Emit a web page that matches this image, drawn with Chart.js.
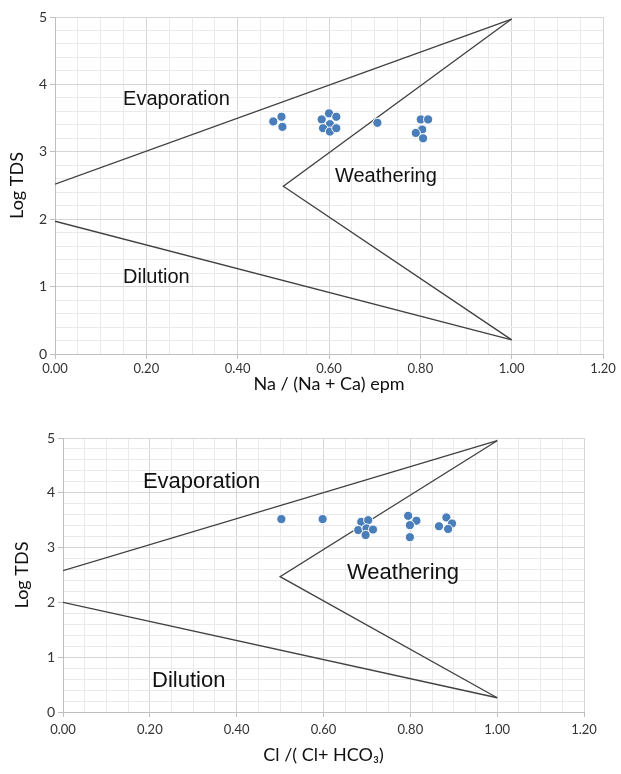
<!DOCTYPE html>
<html>
<head>
<meta charset="utf-8">
<script src="https://cdn.jsdelivr.net/npm/chart.js@4.4.1/dist/chart.umd.min.js"></script>
<style>
  html, body { margin: 0; padding: 0; background: #fff; }
  #wrap { position: relative; width: 621px; height: 774px; }
  #wrap canvas { position: absolute; left: 0; }
</style>
</head>
<body>
<div id="wrap">
  <canvas id="chartNa" width="621" height="400" style="top:0"></canvas>
  <canvas id="chartCl" width="621" height="374" style="top:400px"></canvas>
</div>
<script>
// Gibbs diagram, Na/(Na+Ca) ratio
const naX = [0.478, 0.496, 0.498, 0.584, 0.600, 0.616, 0.602, 0.587, 0.602, 0.616, 0.706, 0.801, 0.817, 0.804, 0.790, 0.806];
const naY = [3.45, 3.52, 3.37, 3.48, 3.57, 3.52, 3.41, 3.35, 3.30, 3.35, 3.43, 3.48, 3.48, 3.33, 3.28, 3.20];

// Gibbs diagram, Cl/(Cl+HCO3) ratio
const clX = [0.503, 0.598, 0.687, 0.703, 0.680, 0.699, 0.714, 0.697, 0.795, 0.814, 0.799, 0.799, 0.883, 0.896, 0.866, 0.887];
const clY = [3.52, 3.52, 3.47, 3.50, 3.32, 3.35, 3.33, 3.23, 3.58, 3.49, 3.41, 3.19, 3.55, 3.44, 3.39, 3.34];

// boundary lines [x, y]
const naUpper = [[0, 2.52], [1, 4.97]];
const naWedge = [[1, 4.97], [0.5, 2.49], [1, 0.21]];
const naLower = [[0, 1.97], [1, 0.21]];

const clUpper = [[0, 2.58], [1, 4.95]];
const clWedge = [[1, 4.95], [0.5, 2.47], [1, 0.26]];
const clLower = [[0, 2.0], [1, 0.26]];

// field names and where they sit (data coords, left/middle)
const zoneNames = ['Evaporation', 'Weathering', 'Dilution'];
const naZonePos = [[0.149, 3.77], [0.613, 2.64], [0.149, 1.14]];
const clZonePos = [[0.184, 4.20], [0.654, 2.54], [0.205, 0.57]];

const xTicks = [0, 0.2, 0.4, 0.6, 0.8, 1.0, 1.2];
const yTicks = [0, 1, 2, 3, 4, 5];

const isMajor = (v, step) => Math.abs(v / step - Math.round(v / step)) < 1e-6;

const toPts = (xs, ys) => xs.map((x, i) => ({ x: x, y: ys[i] }));
const toLine = arr => arr.map(p => ({ x: p[0], y: p[1] }));

const zoneText = {
  id: 'zoneText',
  afterDatasetsDraw(chart, args, opts) {
    const { ctx, scales: { x, y } } = chart;
    ctx.save();
    ctx.font = opts.size + 'px "Liberation Sans", Arial, sans-serif';
    ctx.fillStyle = '#111';
    ctx.textAlign = 'left';
    ctx.textBaseline = 'middle';
    zoneNames.forEach((name, i) => {
      const p = opts.pos[i];
      ctx.fillText(name, x.getPixelForValue(p[0]), y.getPixelForValue(p[1]));
    });
    ctx.restore();
  }
};

function lineSet(data) {
  return {
    type: 'line', data: data, borderColor: '#404040', borderWidth: 1.3,
    pointRadius: 0, fill: false, tension: 0, order: 2
  };
}

function makeChart(id, pts, upper, wedge, lower, cfg) {
  new Chart(document.getElementById(id), {
    type: 'scatter',
    data: {
      datasets: [
        {
          data: pts, backgroundColor: '#4a7ebb', borderColor: '#ffffff', borderWidth: 1,
          pointRadius: 4.6, order: 0
        },
        lineSet(toLine(upper)),
        lineSet(toLine(wedge)),
        lineSet(toLine(lower))
      ]
    },
    options: {
      responsive: false,
      animation: false,
      layout: { padding: cfg.padding },
      plugins: {
        legend: { display: false },
        tooltip: { enabled: false },
        zoneText: { size: cfg.textSize, pos: cfg.zonePos }
      },
      scales: {
        x: {
          type: 'linear', min: 0, max: 1.2,
          afterFit: s => { s.height = cfg.xHeight; },
          border: { color: '#bfbfbf' },
          grid: {
            color: c => isMajor(c.tick.value, 0.2) ? '#d6d6d6' : '#eaeaea',
            tickColor: c => isMajor(c.tick.value, 0.2) ? '#bfbfbf' : 'rgba(0,0,0,0)',
            tickLength: 5
          },
          afterBuildTicks: s => {
            const t = [];
            for (let i = 0; i <= 24; i++) t.push({ value: +(i * 0.05).toFixed(2) });
            s.ticks = t;
          },
          ticks: {
            autoSkip: false, maxRotation: 0, padding: cfg.xTickPad,
            color: '#333', font: { family: 'Lato, "Open Sans", sans-serif', size: 13 },
            callback: v => xTicks.some(t => Math.abs(t - v) < 1e-6) ? v.toFixed(2) : ''
          },
          title: {
            display: true, text: cfg.xTitle, color: '#111',
            font: { family: 'Lato, "Open Sans", sans-serif', size: 18 },
            padding: { top: 4, bottom: cfg.xTitlePad }
          }
        },
        y: {
          type: 'linear', min: 0, max: 5,
          afterFit: s => { s.width = cfg.yWidth; },
          border: { color: '#bfbfbf' },
          grid: {
            color: c => isMajor(c.tick.value, 1) ? '#d6d6d6' : '#eaeaea',
            tickColor: c => isMajor(c.tick.value, 1) ? '#bfbfbf' : 'rgba(0,0,0,0)',
            tickLength: 5
          },
          afterBuildTicks: s => {
            const t = [];
            for (let i = 0; i <= 25; i++) t.push({ value: +(i * 0.2).toFixed(1) });
            s.ticks = t;
          },
          ticks: {
            autoSkip: false, padding: 3,
            color: '#333', font: { family: 'Lato, "Open Sans", sans-serif', size: 14 },
            callback: v => yTicks.some(t => Math.abs(t - v) < 1e-6) ? String(Math.round(v)) : ''
          },
          title: {
            display: true, text: 'Log TDS', color: '#111',
            font: { family: 'Lato, "Open Sans", sans-serif', size: 18 },
            padding: { top: cfg.yTitlePad, bottom: 0 }
          }
        }
      }
    },
    plugins: [zoneText]
  });
}

makeChart('chartNa', toPts(naX, naY), naUpper, naWedge, naLower, {
  padding: { left: 0, top: 17, right: 18, bottom: 0 },
  xHeight: 46, yWidth: 55, xTickPad: 2, xTitlePad: 5, yTitlePad: 6,
  xTitle: 'Na / (Na + Ca) epm', textSize: 20, zonePos: naZonePos
});

makeChart('chartCl', toPts(clX, clY), clUpper, clWedge, clLower, {
  padding: { left: 0, top: 38, right: 37, bottom: 0 },
  xHeight: 62, yWidth: 63, xTickPad: 5, xTitlePad: 8, yTitlePad: 11,
  xTitle: 'Cl /( Cl+ HCO\u2083)', textSize: 22, zonePos: clZonePos
});
</script>
</body>
</html>
